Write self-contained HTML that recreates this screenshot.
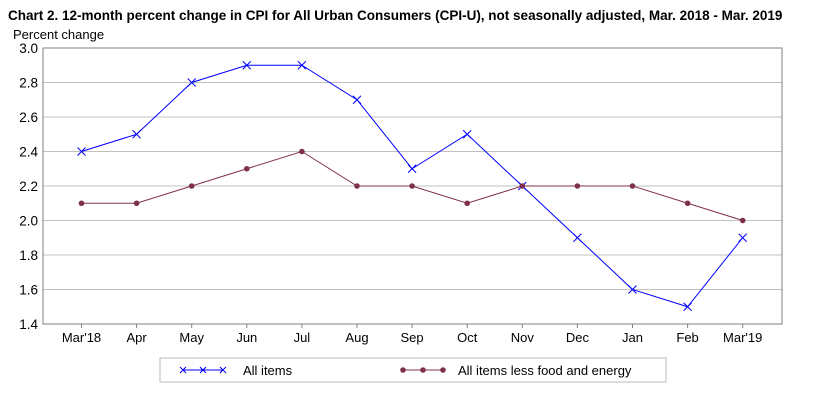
<!DOCTYPE html>
<html><head><meta charset="utf-8"><style>
body{margin:0;background:#fff;font-family:"Liberation Sans",sans-serif;}
svg text{font-family:"Liberation Sans",sans-serif;}
</style></head><body>
<svg id="c" width="816" height="409" xmlns="http://www.w3.org/2000/svg">
<text x="8" y="20" font-size="13.5" font-weight="bold" fill="#000">Chart 2. 12-month percent change in CPI for All Urban Consumers (CPI-U), not seasonally adjusted, Mar. 2018 - Mar. 2019</text>
<text x="13" y="39" font-size="13" fill="#000">Percent change</text>
<g id="grid"></g><g id="series"></g>
<rect x="43" y="48" width="739" height="276" fill="none" stroke="#808080"/>
<g>
<rect x="160" y="358" width="506" height="24" fill="#fff" stroke="#bbb"/>
<g>
<line x1="183" y1="370" x2="223" y2="370" stroke="#0000ff"/>
<path d="M180 367l6 6M186 367l-6 6M200 367l6 6M206 367l-6 6M220 367l6 6M226 367l-6 6" stroke="#0000ff"/>
<text x="243" y="375" font-size="13">All items</text></g>
<g>
<line x1="403" y1="370" x2="443" y2="370" stroke="#80304f"/>
<circle cx="403" cy="370" r="2.8" fill="#80304f"/><circle cx="423" cy="370" r="2.8" fill="#80304f"/><circle cx="443" cy="370" r="2.8" fill="#80304f"/>
<text x="458" y="375" font-size="13">All items less food and energy</text></g>
</g>
</svg>
<script>
const categories=["Mar'18","Apr","May","Jun","Jul","Aug","Sep","Oct","Nov","Dec","Jan","Feb","Mar'19"];
const allItems=[2.4,2.5,2.8,2.9,2.9,2.7,2.3,2.5,2.2,1.9,1.6,1.5,1.9];
const core=[2.1,2.1,2.2,2.3,2.4,2.2,2.2,2.1,2.2,2.2,2.2,2.1,2.0];
const yTicks=[1.4,1.6,1.8,2.0,2.2,2.4,2.6,2.8,3.0];
const NS="http://www.w3.org/2000/svg";
const x=i=>81.5+i*55.1;
const y=v=>324-(v-1.4)*172.5;
function mk(t,a,p){const e=document.createElementNS(NS,t);for(const k in a)e.setAttribute(k,a[k]);p.appendChild(e);return e;}
const g=document.getElementById('grid'),s=document.getElementById('series');
yTicks.forEach(v=>{
 if(v>1.4&&v<3.0){const l=mk('line',{x1:43,x2:782,y1:y(v),y2:y(v),stroke:'#c0c0c0'},g);
 
 }
 const t=mk('text',{x:38,y:y(v)+5,'font-size':13.5,'text-anchor':'end'},g);t.textContent=v.toFixed(1);
 
 
});
categories.forEach((c,i)=>{
 mk('line',{x1:x(i),x2:x(i),y1:324,y2:328,stroke:'#808080'},g);
 const t=mk('text',{x:x(i),y:342,'font-size':13,'text-anchor':'middle'},g);t.textContent=c;
 
 
});
const p1=mk('polyline',{points:allItems.map((v,i)=>x(i)+','+y(v)).join(' '),fill:'none',stroke:'#0000ff'},s);


allItems.forEach((v,i)=>{const m=mk('path',{d:`M${x(i)-4} ${y(v)-4}l8 8M${x(i)+4} ${y(v)-4}l-8 8`,stroke:'#0000ff'},s);
 
 });
const p2=mk('polyline',{points:core.map((v,i)=>x(i)+','+y(v)).join(' '),fill:'none',stroke:'#80304f'},s);


core.forEach((v,i)=>{const m=mk('circle',{cx:x(i),cy:y(v),r:2.8,fill:'#80304f'},s);
 
 });
</script>
</body></html>
